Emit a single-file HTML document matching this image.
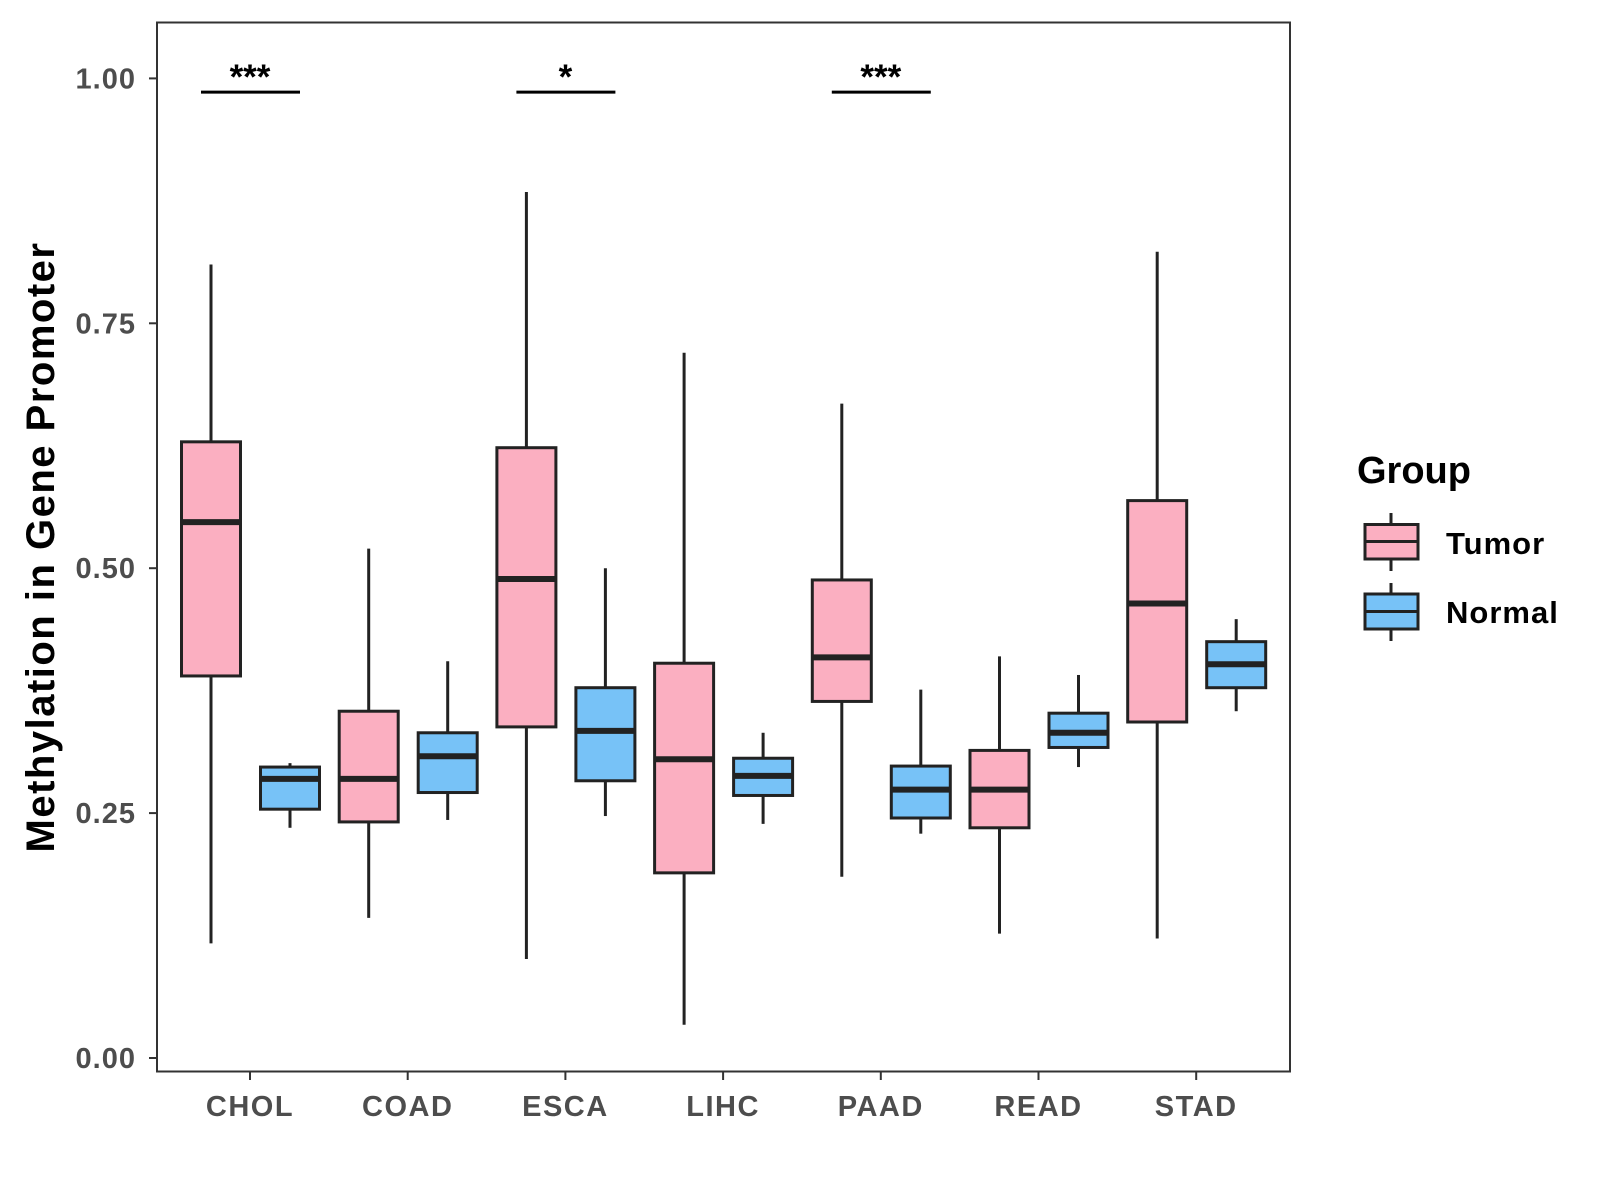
<!DOCTYPE html>
<html><head><meta charset="utf-8"><style>
html,body{margin:0;padding:0;background:#fff;}
svg{display:block;font-family:"Liberation Sans",Arial,sans-serif;}
</style></head><body>
<svg id="chart" width="1600" height="1200" viewBox="0 0 1600 1200">
<rect x="0" y="0" width="1600" height="1200" fill="#fff"/>
<g id="marks"></g>
<rect x="157" y="22.5" width="1133" height="1049" fill="none" stroke="#333" stroke-width="2"/>
<g id="axes"></g>
<text transform="translate(54,547) rotate(-90)" text-anchor="middle" font-size="40" font-weight="bold" letter-spacing="1.5" fill="#000">Methylation in Gene Promoter</text>
<g>
<text x="1357" y="483" font-size="38" font-weight="bold" fill="#000">Group</text>
<g>
<line x1="1391" x2="1391" y1="513" y2="571" stroke="#222" stroke-width="3"/>
<rect x="1365" y="524.5" width="53" height="34.5" fill="#FBAFC1" stroke="#222" stroke-width="3"/>
<line x1="1365" x2="1418" y1="541.5" y2="541.5" stroke="#222" stroke-width="3"/>
<text x="1446" y="554" font-size="31" font-weight="bold" letter-spacing="1" fill="#000">Tumor</text>
</g>
<g>
<line x1="1391" x2="1391" y1="583" y2="641" stroke="#222" stroke-width="3"/>
<rect x="1365" y="594" width="53" height="35" fill="#77C2F7" stroke="#222" stroke-width="3"/>
<line x1="1365" x2="1418" y1="611.5" y2="611.5" stroke="#222" stroke-width="3"/>
<text x="1446" y="623" font-size="31" font-weight="bold" letter-spacing="1" fill="#000">Normal</text>
</g>
</g>
</svg>
<script>
const categories = ["CHOL","COAD","ESCA","LIHC","PAAD","READ","STAD"];
// [lowWhisker, Q1, median, Q3, highWhisker]
const tumorStats = [
 [0.117,0.390,0.547,0.629,0.810],
 [0.143,0.241,0.285,0.354,0.520],
 [0.101,0.338,0.489,0.623,0.884],
 [0.034,0.189,0.305,0.403,0.720],
 [0.185,0.364,0.409,0.488,0.668],
 [0.127,0.235,0.274,0.314,0.410],
 [0.122,0.343,0.464,0.569,0.823]
];
const normalStats = [
 [0.235,0.254,0.285,0.297,0.301],
 [0.243,0.271,0.308,0.332,0.405],
 [0.247,0.283,0.334,0.378,0.500],
 [0.239,0.268,0.288,0.306,0.332],
 [0.229,0.245,0.274,0.298,0.376],
 [0.297,0.317,0.332,0.352,0.391],
 [0.354,0.378,0.402,0.425,0.448]
];
const yTicks = [0,0.25,0.5,0.75,1.0];
const yTickLabels = ["0.00","0.25","0.50","0.75","1.00"];
const sigLabels = ["***","","*","","***","",""];
const sigLevel = 0.986;

const NS="http://www.w3.org/2000/svg";
const y = v => 1058 - v*979.6;
const x = i => 250 + i*157.7;
const marks=document.getElementById('marks'), axes=document.getElementById('axes');
function mk(tag,attrs,parent){const e=document.createElementNS(NS,tag);for(const k in attrs)e.setAttribute(k,attrs[k]);parent.appendChild(e);return e;}

function drawBox(s,cx,fill,name){
  const g=mk('g',{},marks);
  
  
  const w=59;
  mk('line',{x1:cx,x2:cx,y1:y(s[4]),y2:y(s[3]),stroke:'#222','stroke-width':3},g);
  mk('line',{x1:cx,x2:cx,y1:y(s[1]),y2:y(s[0]),stroke:'#222','stroke-width':3},g);
  mk('rect',{x:cx-w/2,y:y(s[3]),width:w,height:y(s[1])-y(s[3]),fill:fill,stroke:'#222','stroke-width':3},g);
  mk('line',{x1:cx-w/2,x2:cx+w/2,y1:y(s[2]),y2:y(s[2]),stroke:'#222','stroke-width':6},g);
}
categories.forEach((c,i)=>{
  drawBox(tumorStats[i],x(i)-39,'#FBAFC1','box-tumor-'+c.toLowerCase());
  drawBox(normalStats[i],x(i)+40,'#77C2F7','box-normal-'+c.toLowerCase());
  if(sigLabels[i]){
    const g=mk('g',{},marks);
    
    
    mk('line',{x1:x(i)-49,x2:x(i)+50,y1:y(sigLevel),y2:y(sigLevel),stroke:'#000','stroke-width':3},g);
    const t=mk('text',{x:x(i),y:y(sigLevel)-3,'text-anchor':'middle','font-size':35,'font-weight':'bold',fill:'#000'},g);
    t.textContent=sigLabels[i];
  }
  mk('line',{x1:x(i),x2:x(i),y1:1072,y2:1080,stroke:'#333','stroke-width':2},axes);
  const t=mk('text',{x:x(i),y:1116,'text-anchor':'middle','font-size':29,'font-weight':'bold','letter-spacing':1.5,fill:'#4d4d4d'},axes);
  
  
  t.textContent=c;
});
yTicks.forEach((v,i)=>{
  mk('line',{x1:149,x2:157,y1:y(v),y2:y(v),stroke:'#333','stroke-width':2},axes);
  const t=mk('text',{x:136,y:y(v)+10,'text-anchor':'end','font-size':29,'font-weight':'bold','letter-spacing':1,fill:'#4d4d4d'},axes);
  
  
  t.textContent=yTickLabels[i];
});
</script>
</body></html>
